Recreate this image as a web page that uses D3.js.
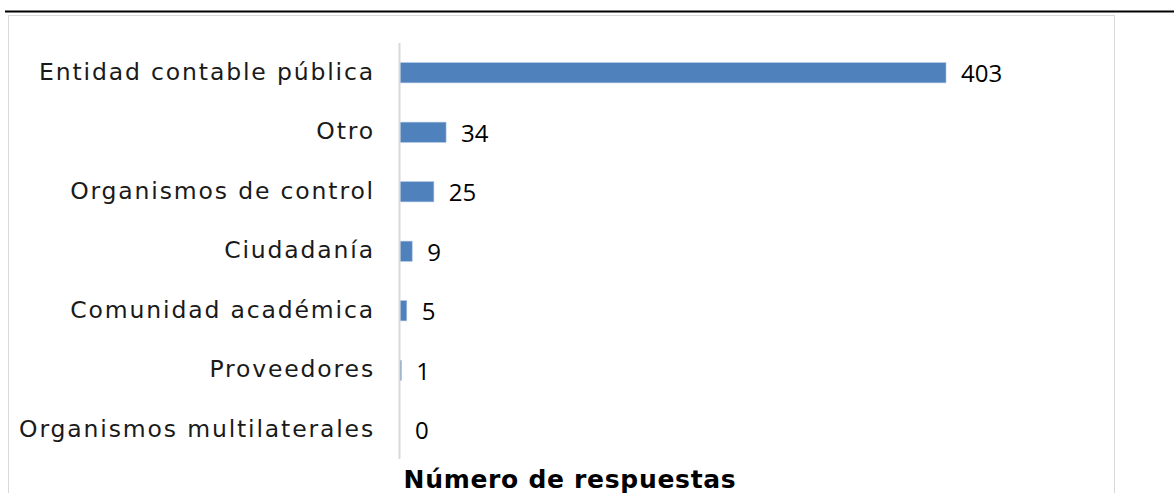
<!DOCTYPE html>
<html>
<head>
<meta charset="utf-8">
<script src="https://cdn.jsdelivr.net/npm/d3@7"></script>
<style>
  body { margin: 0; background: #fff; }
  svg { display: block; }
  .cat { font-family: "DejaVu Sans", sans-serif; font-size: 23.5px; letter-spacing: 1.85px; fill: #1a1a1a; }
  .val { font-family: "Open Sans", sans-serif; font-size: 24px; fill: #000; }
  .title { font-family: "DejaVu Sans", sans-serif; font-weight: bold; font-size: 25px; letter-spacing: 0.7px; fill: #000; }
</style>
</head>
<body>
<svg id="chart" width="1174" height="493"></svg>
<script>
var categories = [
  'Entidad contable pública',
  'Otro',
  'Organismos de control',
  'Ciudadanía',
  'Comunidad académica',
  'Proveedores',
  'Organismos multilaterales'
];
var values = [403, 34, 25, 9, 5, 1, 0];
var axisTitle = 'Número de respuestas';

var svg = d3.select('#chart');

// page rule and chart frame
svg.append('line')
    .attr('x1', 5).attr('x2', 1174)
    .attr('y1', 11.5).attr('y2', 11.5)
    .attr('stroke', '#000').attr('stroke-width', 2);

svg.append('rect')
    .attr('x', 8.5).attr('y', 15.5)
    .attr('width', 1106).attr('height', 500)
    .attr('fill', 'none')
    .attr('stroke', '#d9d9d9');

var data = categories.map(function(c, i) { return {name: c, value: values[i]}; });

var y = d3.scaleBand()
    .domain(categories)
    .range([43, 459.5])
    .paddingInner(0.66)
    .paddingOuter(0.33);

var x = d3.scaleLinear()
    .domain([0, 403])
    .range([400, 946]);

var g = svg.append('g');

g.selectAll('rect.bar')
    .data(data)
  .enter().append('rect')
    .attr('class', 'bar')
    .attr('x', x(0))
    .attr('y', function(d) { return y(d.name); })
    .attr('width', function(d) { return x(d.value) - x(0); })
    .attr('height', y.bandwidth())
    .attr('fill', '#4f81bd')
    .attr('stroke', function(d) { return d.value ? '#a9c1e0' : 'none'; })
    .attr('stroke-width', 0.6);

// axis line
svg.append('line')
    .attr('x1', x(0) - 0.5).attr('x2', x(0) - 0.5)
    .attr('y1', 43).attr('y2', 459)
    .attr('stroke', '#d9d9d9').attr('stroke-width', 2);

g.selectAll('text.cat')
    .data(data)
  .enter().append('text')
    .attr('class', 'cat')
    .attr('x', 375)
    .attr('y', function(d) { return y(d.name) + y.bandwidth() / 2; })
    .attr('dy', '0.3em')
    .attr('text-anchor', 'end')
    .text(function(d) { return d.name; });

g.selectAll('text.val')
    .data(data)
  .enter().append('text')
    .attr('class', 'val')
    .attr('x', function(d) { return x(d.value) + 15; })
    .attr('y', function(d) { return y(d.name) + y.bandwidth() / 2; })
    .attr('dy', '0.4em')
    .text(function(d) { return d.value; });

svg.append('text')
    .attr('class', 'title')
    .attr('x', 570)
    .attr('y', 488)
    .attr('text-anchor', 'middle')
    .text(axisTitle);
</script>
</body>
</html>
